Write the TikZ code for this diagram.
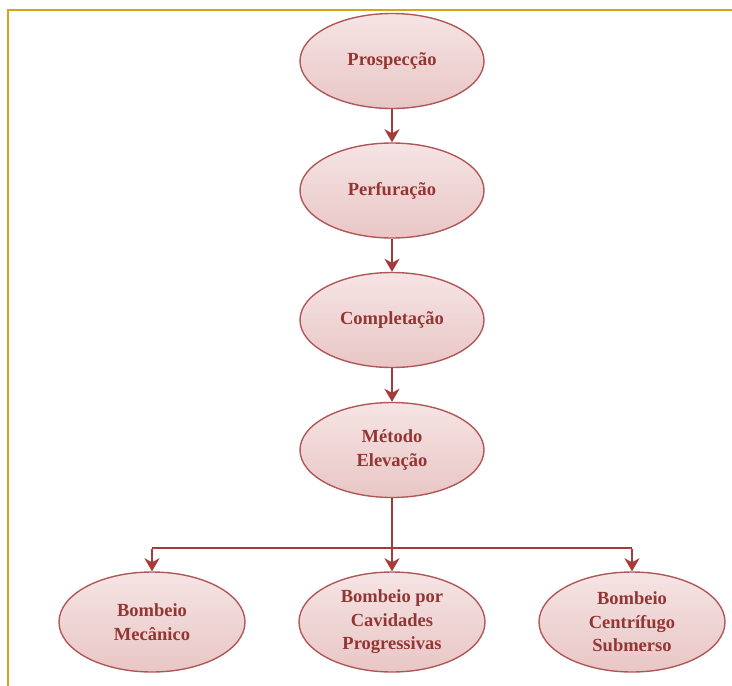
\documentclass[tikz,border=0pt]{standalone}
\usepackage{fontspec}
\setmainfont{Liberation Serif}
\usetikzlibrary{shapes.geometric,arrows.meta}
\definecolor{framegold}{HTML}{D9A21B}
\definecolor{linkred}{HTML}{A33B3B}
\definecolor{textred}{HTML}{943634}
\definecolor{rimred}{HTML}{B05858}
\definecolor{filltop}{HTML}{F6E4E4}
\definecolor{fillbot}{HTML}{E9C6C6}
\tikzset{
  stage/.style={ellipse, draw=rimred, line width=1.4pt,
    top color=filltop, bottom color=fillbot,
    minimum width=184pt, minimum height=95pt, inner sep=0pt,
    font=\bfseries\fontsize{18.5}{23.5}\selectfont, text=textred, align=center},
  leaf/.style={stage, minimum width=186pt, minimum height=100pt},
  link/.style={draw=linkred, line width=2.8pt,
    -{Stealth[length=13pt,width=15pt,inset=4pt]}},
  plain/.style={draw=linkred, line width=2.8pt}
}
\begin{document}
\begin{tikzpicture}[x=1pt,y=-1pt]
\useasboundingbox (0,0) rectangle (732,686);
% frame edges
\draw[framegold, line width=1.6pt] (8,686) -- (8,10) -- (732,10);

\node[stage] (p) at (392,61) {Prospecção};
\node[stage] (f) at (392,190.5) {Perfuração};
\node[stage] (c) at (392,320) {Completação};
\node[stage] (m) at (392,450) {Método\\Elevação};
\node[leaf] (bm) at (152,622) {Bombeio\\Mecânico};
\node[leaf] (bc) at (392,622) {Bombeio por\\Cavidades\\Progressivas};
\node[leaf] (bs) at (632,622) {Bombeio\\Centrífugo\\Submerso};

\draw[link] (p) -- (f);
\draw[link] (f) -- (c);
\draw[link] (c) -- (m);

\coordinate (split) at (392,548);
\coordinate (leftend) at (152,548);
\coordinate (rightend) at (632,548);
\draw[plain] (m.south) -- (split);
\draw[plain] (leftend) -- (rightend);
\draw[link] (split) -- (bc);
\draw[link] ([yshift=-1.4pt]leftend) -- (bm);
\draw[link] ([yshift=-1.4pt]rightend) -- (bs);
\end{tikzpicture}
\end{document}
